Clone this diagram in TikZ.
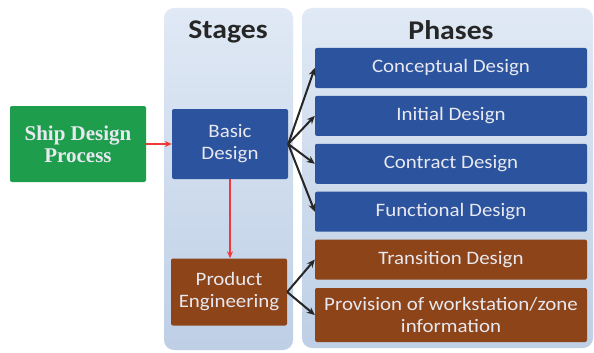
\documentclass[tikz,border=0pt]{standalone}
\usepackage{fontspec}
\setsansfont{Carlito}[FakeStretch=1.1]
\newfontfamily\shipserif{Liberation Serif}
\usetikzlibrary{arrows.meta, positioning}

\definecolor{panelTop}{RGB}{224,233,245}
\definecolor{panelBot}{RGB}{190,207,230}
\definecolor{designBlue}{RGB}{44,84,158}
\definecolor{engBrown}{RGB}{140,68,24}
\definecolor{processGreen}{RGB}{30,158,76}
\definecolor{flowRed}{RGB}{238,58,58}
\definecolor{boxText}{RGB}{232,232,240}

\begin{document}
\begin{tikzpicture}[x=1pt, y=-1pt,
                        every node/.style={align=center, font=\sffamily},
                        panel/.style={rounded corners=10pt, top color=panelTop, bottom color=panelBot},
                        header/.style={font=\sffamily\bfseries\fontsize{27}{30}\selectfont, text=black!85},
                        box/.style={rectangle, rounded corners=2pt, inner sep=0pt, text=boxText,
                                    font=\sffamily\fontsize{19}{22}\selectfont},
                        stage/.style={box, minimum width=116pt},
                        phase/.style={box, minimum width=272pt, minimum height=40pt},
                        design/.style={fill=designBlue},
                        engineering/.style={fill=engBrown},
                        link/.style={draw=black!85, -{Stealth[length=8pt, width=7pt]}, line width=2pt},
                        flow/.style={draw=flowRed, -{Stealth[length=7pt, width=6pt]}, line width=1.8pt}
                        ]

                        \useasboundingbox (0,0) rectangle (594,353);
                        \fill[white] (0,0) rectangle (594,353);

                        % columns
                        \path[panel] (164,8) rectangle (293,350);
                        \path[panel] (302,8) rectangle (593,348);
                        \node[header] (stages) at (228,32) {Stages};
                        \node[header] (phases) at (451,30) {Phases};

                        \node[box, fill=processGreen, minimum width=136pt, minimum height=76pt,
                              font=\shipserif\bfseries\fontsize{21}{22}\selectfont] (ship) at (78,144) {Ship Design\\Process};

                        % stages
                        \node[stage, design, minimum height=70pt] (basic) at (230,144) {Basic\\Design};
                        \node[stage, engineering, minimum height=67pt] (product) at (229,292) {Product\\Engineering};

                        % phases
                        \node[phase, design] (conceptual) at (451,68) {Conceptual Design};
                        \node[phase, design, below=7.5pt of conceptual] (initial) {Initial Design};
                        \node[phase, design, below=7.5pt of initial] (contract) {Contract Design};
                        \node[phase, design, below=7.5pt of contract] (functional) {Functional Design};
                        \node[phase, engineering, below=7.5pt of functional] (transition) {Transition Design};
                        \node[phase, engineering, minimum height=54pt, below=8pt of transition] (provision)
                              {Provision of workstation/zone\\information};

                        \draw[flow] (ship) -- (basic);
                        \draw[flow] (basic.south) -- (basic.south |- product.north);

                        \draw[link] (basic.east) -- (conceptual.west);
                        \draw[link] (basic.east) -- (initial.west);
                        \draw[link] (basic.east) -- (contract.west);
                        \draw[link] (basic.east) -- (functional.west);
                        \draw[link] (product.east) -- (transition.west);
                        \draw[link] (product.east) -- (provision.west);
                      \end{tikzpicture}
\end{document}
